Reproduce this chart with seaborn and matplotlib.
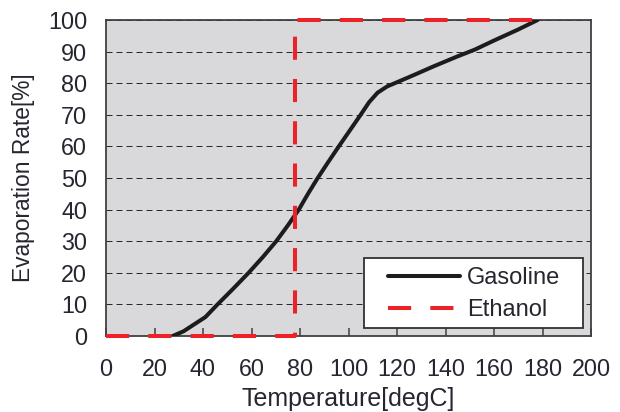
import pandas as pd
import numpy as np

import matplotlib
matplotlib.use("Agg")
import matplotlib.pyplot as plt
from matplotlib.patches import Rectangle
import seaborn as sns

# gasoline distillation curve
gas_temp = [27.5, 32, 36, 41, 46, 52.5, 58.8, 64.7, 70.2, 75, 79.5, 83.3,
            87.3, 91.6, 96, 100.5, 105, 108.5, 112, 116, 120, 127, 135,
            145, 152, 160, 170, 178]
gas_rate = [0, 1.5, 3.5, 6, 10, 15, 20, 25, 30, 35, 40, 45,
            50, 55, 60, 65, 70, 74, 77, 79, 80.3, 82.6, 85.3,
            88.5, 90.6, 93.5, 97, 100]

# ethanol boils at one temperature
eth_temp = [0, 78, 78, 180]
eth_rate = [0, 0, 100, 100]

x_ticks = [0, 20, 40, 60, 80, 100, 120, 140, 160, 180, 200]
y_ticks = [0, 10, 20, 30, 40, 50, 60, 70, 80, 90, 100]

gas = pd.DataFrame({"temp": gas_temp, "rate": gas_rate})
eth = pd.DataFrame({"temp": eth_temp, "rate": eth_rate})

sns.set_style("white")
plt.rcParams["font.family"] = ["Liberation Sans", "DejaVu Sans"]

fig = plt.figure(figsize=(6.2, 4.12), dpi=100)
ax = fig.add_axes([106 / 620, 76 / 412, 485 / 620, 316 / 412])
ax.set_facecolor("#d9d9db")

sns.lineplot(
    data=gas, x="temp", y="rate", ax=ax,
    estimator=None, sort=False,
    color="#1c1c1c", linewidth=2.9,
    label="Gasoline", zorder=3,
)

sns.lineplot(
    data=eth, x="temp", y="rate", ax=ax,
    estimator=None, sort=False,
    color="#ed2228", linewidth=2.9,
    linestyle=(0, (5.75, 4.75)),
    dash_capstyle="butt",
    label="Ethanol", zorder=4, clip_on=False,
)

ax.set_xlim(0, 200)
ax.set_ylim(0, 100)
ax.set_xticks(x_ticks)
ax.set_yticks(y_ticks)

ax.grid(axis="y", color="#2a2a2a", linewidth=0.72,
        linestyle=(0, (6, 4)))
ax.grid(axis="x", visible=False)
ax.set_axisbelow(True)

for s in ax.spines.values():
    s.set_color("#404040")
    s.set_linewidth(1.3)
    s.set_visible(True)

txt = "#262630"
ax.tick_params(axis="x", direction="in", length=5.5, width=1.1,
               color="#404040", pad=15.5, labelsize=16.8, labelcolor=txt,
               bottom=True)
ax.tick_params(axis="y", direction="in", length=0, pad=13.5,
               labelsize=16.8, labelcolor=txt, left=True)

ax.set_xlabel("Temperature[degC]", fontsize=18, color=txt, labelpad=5)
ax.set_ylabel("Evaporation Rate[%]", fontsize=16.4, color=txt, labelpad=9)

# legend box drawn separately so it can be wider than the entries
box = Rectangle(
    (258 / 485, 8 / 316), 219 / 485, 70 / 316,
    transform=ax.transAxes, facecolor="white",
    edgecolor="#303030", linewidth=1.3, zorder=4.5,
)
ax.add_patch(box)

leg = ax.legend(
    loc="center left", bbox_to_anchor=(388 / 620, (412 - 294) / 412),
    bbox_transform=fig.transFigure,
    fontsize=17, frameon=False,
    handlelength=3.05, handletextpad=0.3,
    borderpad=0, labelspacing=0.42,
    borderaxespad=0,
)
leg.set_zorder(6)
for t in leg.get_texts():
    t.set_color(txt)

plt.savefig("out.png", dpi=100)
